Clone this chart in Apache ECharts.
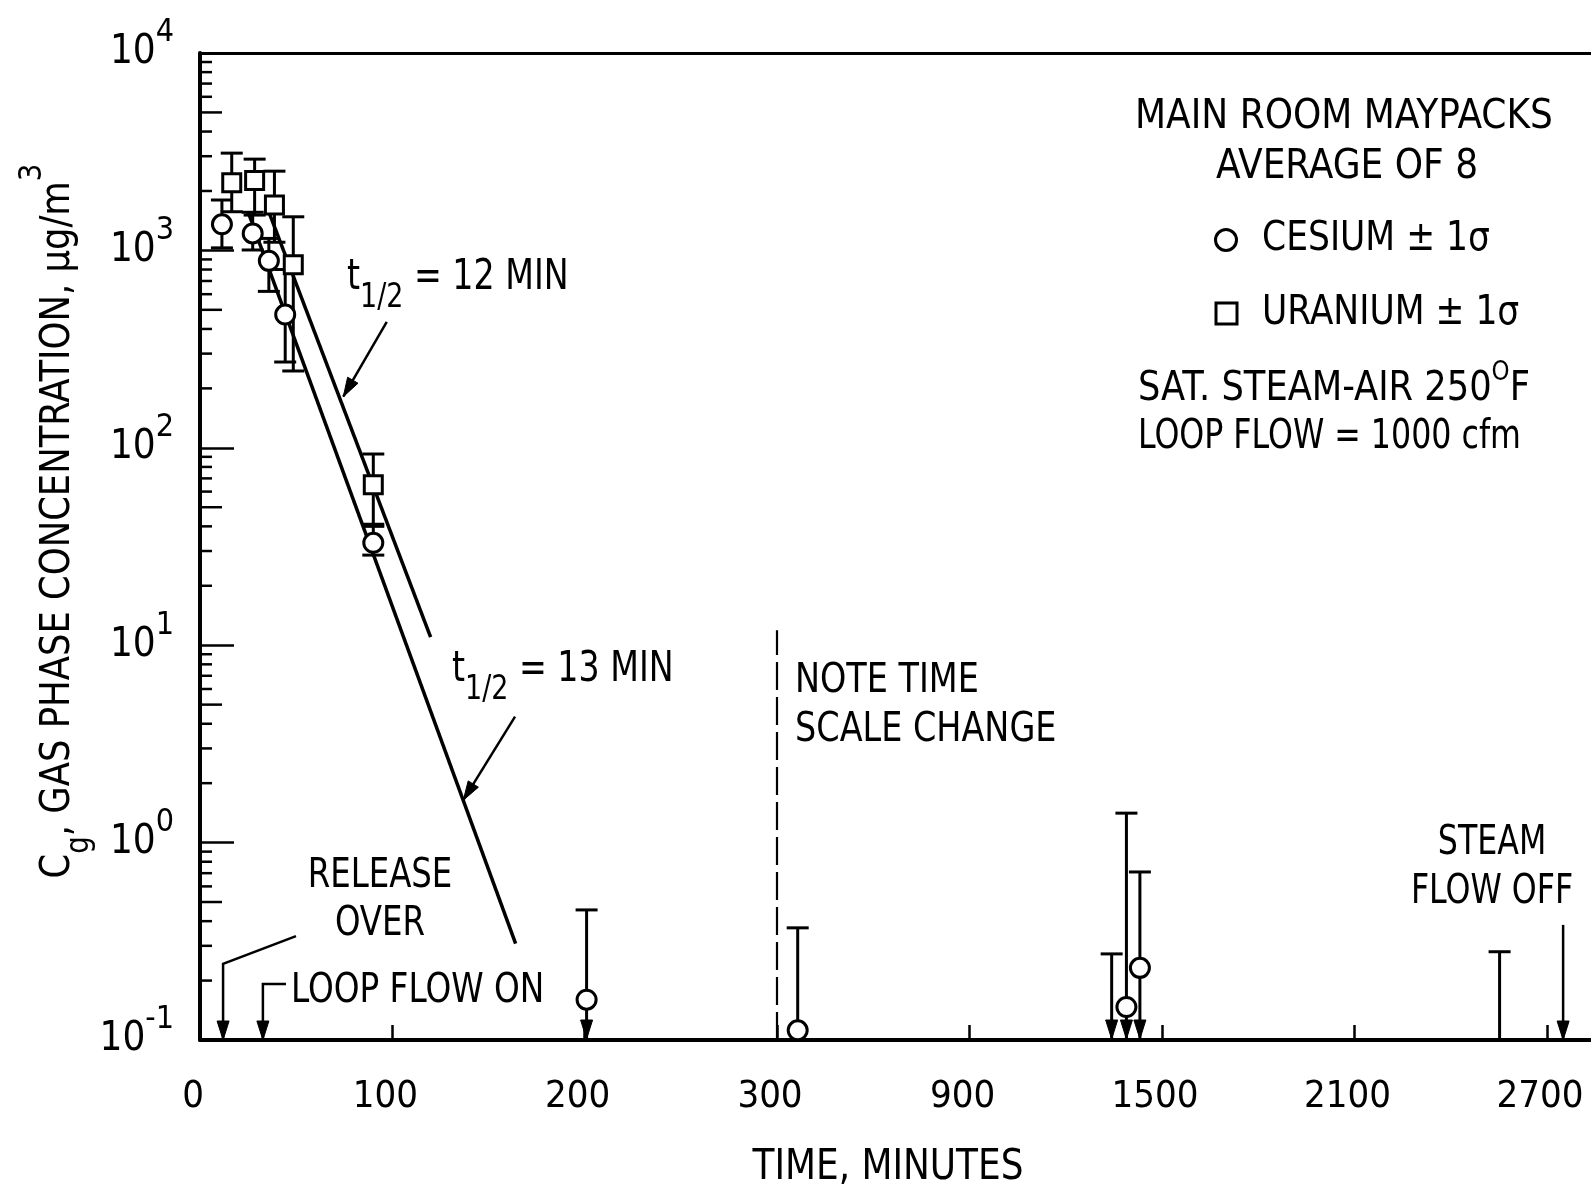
<!DOCTYPE html>
<html>
<head>
<meta charset="utf-8">
<script src="https://cdn.jsdelivr.net/npm/echarts@6/dist/echarts.min.js"></script>
<style>
  html, body { margin: 0; padding: 0; background: #fff; }
  #chart { width: 1591px; height: 1192px; }
</style>
</head>
<body>
<div id="chart"></div>
<script>
// Time axis is broken at 300 min: 0–300 on one scale, 300 onward compressed.
const BREAK_T = 300;

// Cesium: time (min), mean gas concentration (µg/m³), +1σ, −1σ (0 = below plotted range), arrow flag
const csTime  = [11.4, 27.4, 35.8, 44.3, 90.1, 201, 364.5, 1389, 1431];
const csValue = [1356, 1219, 885, 473, 33, 0.16, 0.112, 0.147, 0.232];
const csHigh  = [1800, 1560, 1150, 800, 40, 0.456, 0.37, 1.41, 0.71];
const csLow   = [1030, 1005, 620, 272, 28.6, 0, 0, 0, 0];
const csArrow = [0, 0, 0, 0, 0, 1, 0, 1, 1];

// Uranium: null mean = below plotted range, only the +1σ limit is shown
const uTime  = [16.5, 28.4, 38.7, 48.5, 90.1, 1343, 2552];
const uValue = [2204, 2258, 1698, 845, 65, null, null];
const uHigh  = [3110, 2900, 2520, 1480, 93, 0.273, 0.28];
const uLow   = [1570, 1510, 1100, 245, 41, 0, 0];
const uArrow = [0, 0, 0, 0, 0, 1, 0];

// Fitted decay lines [time, concentration]
const fitUranium = [[34.8, 1660], [119.9, 11.0]];   // t1/2 = 12 min
const fitCesium  = [[25.0, 1566], [164.1, 0.308]];  // t1/2 = 13 min

// Axis ticks
const yMin = 0.1, yMax = 10000;
const yMinorMantissas = [2, 3, 4, 5, 6, 7, 8, 9];
const yDecades = [-1, 0, 1, 2, 3];
const xTicksRight = [900, 1500, 2100, 2700];
const xMaxRight = 2840;

const FONT = '"Liberation Sans Narrow", "DejaVu Sans Condensed", "Liberation Sans", sans-serif';
const INK = '#000';
const CAP = 11;

function arrowHead(from, tip, len, half) {
  len = len || 19; half = half || 6;
  const dx = tip[0] - from[0], dy = tip[1] - from[1];
  const d = Math.hypot(dx, dy) || 1;
  const ux = dx / d, uy = dy / d;
  const bx = tip[0] - ux * len, by = tip[1] - uy * len;
  return {
    type: 'polygon',
    shape: { points: [[tip[0], tip[1]], [bx - uy * half, by + ux * half], [bx + uy * half, by - ux * half]] },
    style: { fill: INK, stroke: INK, lineWidth: 1 }
  };
}

function renderErrorBar(params, api) {
  const t = api.value(0), hi = api.value(1), lo = api.value(2), arrow = api.value(3);
  const top = api.coord([t, hi]);
  const clipped = !(lo > yMin);
  const bot = api.coord([t, clipped ? yMin : lo]);
  const st = { stroke: INK, lineWidth: 3, fill: null };
  const kids = [
    { type: 'line', shape: { x1: top[0], y1: top[1], x2: bot[0], y2: bot[1] }, style: st },
    { type: 'line', shape: { x1: top[0] - CAP, y1: top[1], x2: top[0] + CAP, y2: top[1] }, style: st }
  ];
  if (!clipped) {
    kids.push({ type: 'line', shape: { x1: bot[0] - CAP, y1: bot[1], x2: bot[0] + CAP, y2: bot[1] }, style: st });
  } else if (arrow) {
    kids.push(arrowHead(top, [bot[0], bot[1] - 1]));
  }
  return { type: 'group', children: kids };
}

function pointerRenderer(list) {
  return function (params, api) {
    const path = list[api.value(2)];
    const pts = path.map(p => api.coord(p));
    return {
      type: 'group',
      children: [
        { type: 'polyline', shape: { points: pts }, style: { stroke: INK, lineWidth: 2.5, fill: null } },
        arrowHead(pts[pts.length - 2], pts[pts.length - 1])
      ]
    };
  };
}

// Annotation pointers in [time, concentration]; the last point is the arrow tip
const pointersLeft = [
  [[97.1, 435], [74.5, 181.6]],                  // t1/2 = 12 MIN
  [[163.8, 4.35], [136.9, 1.64]],                // t1/2 = 13 MIN
  [[49.9, 0.336], [12, 0.243], [12, 0.1]],       // RELEASE OVER
  [[44.7, 0.192], [32.7, 0.192], [32.7, 0.1]]    // LOOP FLOW ON
];
const pointersRight = [
  [[2750, 0.383], [2750, 0.1]]                   // STEAM FLOW OFF
];

function rowsOf(time, cols) {
  return time.map((t, i) => [t].concat(cols.map(c => c[i])));
}
const csBars = rowsOf(csTime, [csHigh, csLow, csArrow]);
const uBars = rowsOf(uTime, [uHigh, uLow, uArrow]);
const csPts = rowsOf(csTime, [csValue]).filter(r => r[1] != null);
const uPts = rowsOf(uTime, [uValue]).filter(r => r[1] != null);
const leftOf = rows => rows.filter(r => r[0] <= BREAK_T);
const rightOf = rows => rows.filter(r => r[0] > BREAK_T);

const minorTicks = [];
yDecades.forEach(k => yMinorMantissas.forEach(m => minorTicks.push([0, m * Math.pow(10, k), m])));

const L = { xAxisIndex: 0, yAxisIndex: 0 };
const R = { xAxisIndex: 2, yAxisIndex: 1 };

function bars(rows, ax) {
  return Object.assign({ type: 'custom', renderItem: renderErrorBar, data: rows, z: 2, silent: true }, ax);
}
function markers(rows, symbol, size, ax) {
  return Object.assign({
    type: 'scatter', data: rows, symbol, symbolSize: size, z: 6, silent: true,
    itemStyle: { color: '#fff', borderColor: INK, borderWidth: 3, opacity: 1 }
  }, ax);
}
function fitLine(pts) {
  return Object.assign({
    type: 'line', data: pts, symbol: 'none', z: 3, silent: true, clip: false,
    lineStyle: { color: INK, width: 3.5 }
  }, L);
}

const baseX = {
  type: 'value',
  splitLine: { show: false },
  axisLine: { show: true, onZero: false, lineStyle: { color: INK, width: 4 } },
  axisTick: { show: true, inside: true, length: 15, lineStyle: { color: INK, width: 2.5 } },
  axisLabel: {
    color: INK, fontFamily: FONT, fontSize: 38, margin: 38, padding: [0, 14, 0, 0],
    formatter: v => String(v)
  }
};
const topX = {
  type: 'value', position: 'top',
  splitLine: { show: false },
  axisLine: { show: true, onZero: false, lineStyle: { color: INK, width: 3 } },
  axisTick: { show: false }, axisLabel: { show: false }
};

const txt = (x, y, text, extra, sx) => ({
  type: 'text', x, y, silent: true, scaleX: sx || 1,
  style: Object.assign({ text, fontFamily: FONT, fontSize: 40, fill: INK, align: 'left', verticalAlign: 'middle' }, extra || {})
});
const halfLifeRich = {
  m: { fontFamily: FONT, fontSize: 42, lineHeight: 44, fill: INK, verticalAlign: 'middle' },
  s: { fontFamily: FONT, fontSize: 34, lineHeight: 34, padding: [40, 0, 0, 0], fill: INK, verticalAlign: 'middle' }
};

const option = {
  animation: false,
  backgroundColor: '#fff',
  grid: [
    { left: 200, top: 53, width: 577, height: 987, outerBoundsMode: 'none' },
    { left: 777, top: 53, width: 815, height: 987, outerBoundsMode: 'none' }
  ],
  xAxis: [
    Object.assign({}, baseX, { gridIndex: 0, position: 'bottom', min: 0, max: BREAK_T, interval: 100 }),
    Object.assign({}, topX, { gridIndex: 0, min: 0, max: BREAK_T }),
    Object.assign({}, baseX, {
      gridIndex: 1, position: 'bottom', min: BREAK_T, max: xMaxRight,
      axisTick: Object.assign({}, baseX.axisTick, { customValues: xTicksRight }),
      axisLabel: Object.assign({}, baseX.axisLabel, { customValues: xTicksRight })
    }),
    Object.assign({}, topX, { gridIndex: 1, min: BREAK_T, max: xMaxRight })
  ],
  yAxis: [
    {
      gridIndex: 0, type: 'log', logBase: 10, min: yMin, max: yMax,
      splitLine: { show: false },
      axisLine: { show: true, onZero: false, lineStyle: { color: INK, width: 4 } },
      axisTick: { show: true, inside: true, length: 34, lineStyle: { color: INK, width: 2.5 } },
      axisLabel: {
        margin: 26, color: INK,
        formatter: v => {
          const e = Math.round(Math.log10(v));
          return '{b|10}{e|' + (e < 0 ? '-' + (-e) : String(e)) + '}';
        },
        rich: {
          b: { fontFamily: FONT, fontSize: 40, lineHeight: 40, color: INK, verticalAlign: 'middle' },
          e: { fontFamily: FONT, fontSize: 32, lineHeight: 32, padding: [0, 0, 40, 0], color: INK, verticalAlign: 'middle' }
        }
      }
    },
    { gridIndex: 1, type: 'log', logBase: 10, min: yMin, max: yMax, show: false }
  ],
  series: [
    // log-scale minor ticks on the concentration axis
    Object.assign({
      type: 'custom', data: minorTicks, z: 1, silent: true,
      renderItem: (params, api) => {
        const p = api.coord([api.value(0), api.value(1)]);
        const len = api.value(2) === 5 ? 22 : 12;
        return { type: 'line', shape: { x1: p[0], y1: p[1], x2: p[0] + len, y2: p[1] }, style: { stroke: INK, lineWidth: 2.5 } };
      }
    }, L),
    bars(leftOf(csBars), L), bars(rightOf(csBars), R),
    bars(leftOf(uBars), L), bars(rightOf(uBars), R),
    fitLine(fitUranium), fitLine(fitCesium),
    // time-scale change marker
    Object.assign({
      type: 'line', data: [[BREAK_T, yMin], [BREAK_T, 11.9]], symbol: 'none', clip: false, silent: true, z: 2,
      lineStyle: { color: INK, width: 2.2, type: [28, 7] }
    }, R),
    Object.assign({
      type: 'custom', z: 4, silent: true, renderItem: pointerRenderer(pointersLeft),
      data: pointersLeft.map((p, i) => [p[0][0], p[0][1], i])
    }, L),
    Object.assign({
      type: 'custom', z: 4, silent: true, renderItem: pointerRenderer(pointersRight),
      data: pointersRight.map((p, i) => [p[0][0], p[0][1], i])
    }, R),
    markers(leftOf(csPts), 'circle', 19, L), markers(rightOf(csPts), 'circle', 19, R),
    markers(leftOf(uPts), 'rect', 18, L), markers(rightOf(uPts), 'rect', 18, R)
  ],
  graphic: [
    // concentration axis title, reading bottom to top
    {
      type: 'text', x: 58, y: 521, rotation: Math.PI / 2, scaleX: 0.96, silent: true,
      style: {
        text: '{m|C}{sub|g}{m|, GAS PHASE CONCENTRATION, µg/m}{sup|3}',
        align: 'center', verticalAlign: 'middle',
        rich: {
          m: { fontFamily: FONT, fontSize: 41, lineHeight: 44, fill: INK, verticalAlign: 'middle' },
          sub: { fontFamily: FONT, fontSize: 32, lineHeight: 32, padding: [44, 0, 0, 0], fill: INK, verticalAlign: 'middle' },
          sup: { fontFamily: FONT, fontSize: 32, lineHeight: 32, padding: [0, 0, 50, 0], fill: INK, verticalAlign: 'middle' }
        }
      }
    },
    txt(888, 1168, 'TIME, MINUTES', { align: 'center', fontSize: 42 }, 0.95),
    // legend block
    txt(1344, 118, 'MAIN ROOM MAYPACKS', { align: 'center' }),
    txt(1347, 168, 'AVERAGE OF 8', { align: 'center' }),
    { type: 'circle', silent: true, shape: { cx: 1226, cy: 240, r: 10.5 }, style: { fill: '#fff', stroke: INK, lineWidth: 3 } },
    txt(1262, 240, 'CESIUM ± 1σ', null, 0.96),
    { type: 'rect', silent: true, shape: { x: 1216, y: 303, width: 21, height: 21 }, style: { fill: '#fff', stroke: INK, lineWidth: 3 } },
    txt(1262, 314, 'URANIUM ± 1σ', null, 0.96),
    {
      type: 'text', x: 1138, y: 390, silent: true, scaleX: 0.98,
      style: {
        text: '{m|SAT. STEAM-AIR 250}{o|O}{m|F}', align: 'left', verticalAlign: 'middle',
        rich: {
          m: { fontFamily: FONT, fontSize: 40, lineHeight: 40, fill: INK, verticalAlign: 'middle' },
          o: { fontFamily: FONT, fontSize: 26, lineHeight: 26, padding: [0, 0, 34, 0], fill: INK, verticalAlign: 'middle' }
        }
      }
    },
    txt(1138, 438, 'LOOP FLOW = 1000 cfm', null, 0.88),
    // half-life labels
    {
      type: 'text', x: 347, y: 278, silent: true, scaleX: 0.88,
      style: { text: '{m|t}{s|1/2}{m| = 12 MIN}', align: 'left', verticalAlign: 'middle', rich: halfLifeRich }
    },
    {
      type: 'text', x: 452, y: 670, silent: true, scaleX: 0.88,
      style: { text: '{m|t}{s|1/2}{m| = 13 MIN}', align: 'left', verticalAlign: 'middle', rich: halfLifeRich }
    },
    txt(380, 901, 'RELEASE\nOVER', { align: 'center', lineHeight: 48 }, 0.9),
    txt(291, 992, 'LOOP FLOW ON', null, 0.91),
    txt(795, 706, 'NOTE TIME\nSCALE CHANGE', { lineHeight: 49 }, 0.93),
    txt(1492, 868, 'STEAM\nFLOW OFF', { align: 'center', lineHeight: 49 }, 0.88)
  ]
};

const chart = echarts.init(document.getElementById('chart'), null, { renderer: 'canvas' });
chart.setOption(option);
</script>
</body>
</html>
